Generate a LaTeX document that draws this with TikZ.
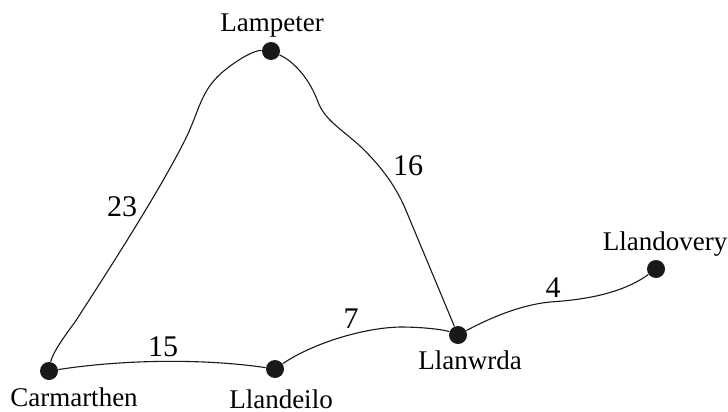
\documentclass[tikz,border=0pt]{standalone}
\usepackage{fontspec}
\setmainfont{Liberation Serif}
\usepackage{tikz}
\usetikzlibrary{positioning}

\begin{document}
\begin{tikzpicture}[x=0.5pt,y=-0.5pt,
      town/.style={circle,fill=black!90,minimum size=9pt,inner sep=0pt},
      townlbl/.style={anchor=base,inner sep=0pt,font=\fontsize{13.5}{16}\selectfont},
      dist/.style={anchor=base,inner sep=0pt,font=\fontsize{15}{18}\selectfont},
      road/.style={draw=black!90,line width=0.55pt}]
    \useasboundingbox (0,0) rectangle (728,412);
    % towns
    \node[town] (car) at (49,371) {};
    \node[town] (lam) at (271,51) {};
    \node[town] (lld) at (275,369) {};
    \node[town] (llw) at (458,335) {};
    \node[town] (ldo) at (656,269) {};
    \node[townlbl] (carlbl) at (74,406) {Carmarthen};
    \node[townlbl] (lamlbl) at (272,32) {Lampeter};
    \node[townlbl] (lldlbl) at (281,408) {Llandeilo};
    \node[townlbl] (llwlbl) at (470,369) {Llanwrda};
    \node[townlbl] (ldolbl) at (665,250) {Llandovery};
    % roads
    \draw[road] (car) .. controls (52,355) and (60,342) .. (75,322)
      .. controls (110,268) and (160,190) .. (185,140)
      .. controls (200,110) and (200,90) .. (225,70)
      .. controls (240,58) and (255,50) .. (lam);
    \draw[road] (lam) .. controls (295,62) and (310,80) .. (318,102)
      .. controls (325,120) and (340,128) .. (360,146)
      .. controls (380,165) and (395,185) .. (405,208) -- (llw);
    \draw[road] (car) .. controls (120,360) and (200,358) .. (lld);
    \draw[road] (lld) .. controls (310,345) and (360,328) .. (400,327)
      .. controls (425,327) and (445,330) .. (llw);
    \draw[road] (llw) .. controls (490,318) and (520,305) .. (550,302)
      .. controls (580,300) and (620,295) .. (ldo);
    % distances
    \node[dist] (d23) at (122,216) {23};
    \node[dist] (d16) at (408,175) {16};
    \node[dist] (d15) at (163,356) {15};
    \node[dist] (d7) at (351,328) {7};
    \node[dist] (d4) at (553,297) {4};
  \end{tikzpicture}
\end{document}
